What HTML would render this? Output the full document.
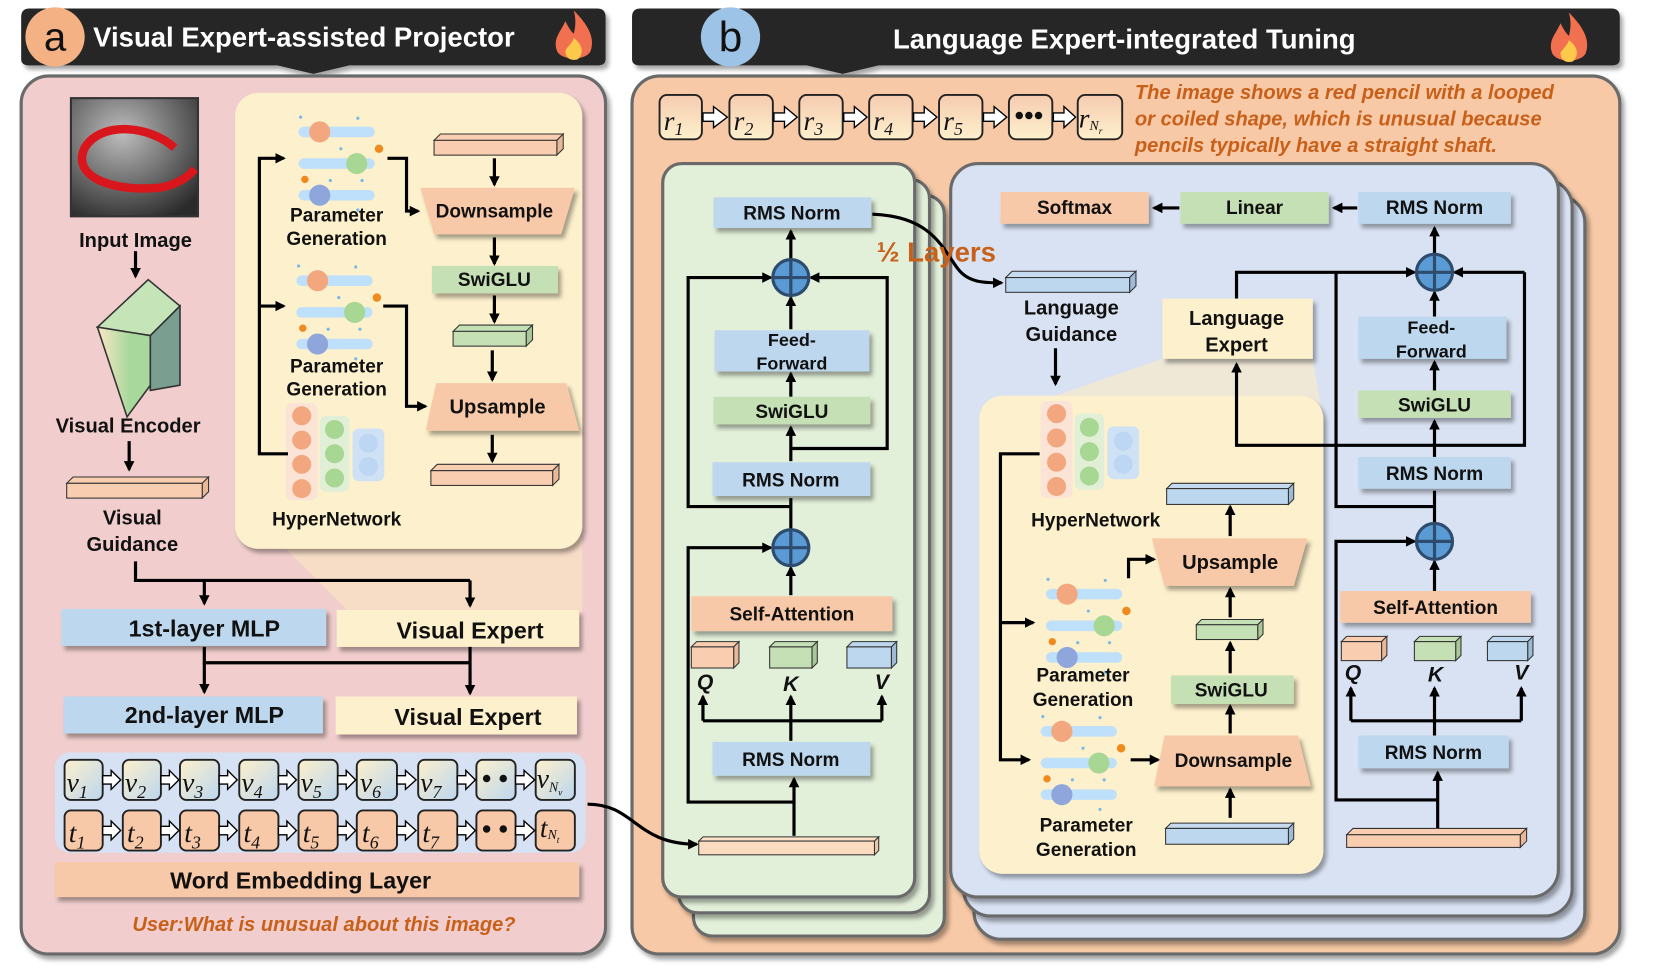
<!DOCTYPE html>
<html><head><meta charset="utf-8"><style>
html,body{margin:0;padding:0;background:#fff;}
svg{display:block;}
text{font-family:"Liberation Sans",sans-serif;font-weight:bold;fill:#111;}
.c{text-anchor:middle;}
.it{font-family:"Liberation Serif",serif;font-style:italic;font-weight:normal;}
.or{fill:#c8601a;font-style:italic;}
</style></head><body>
<svg width="1660" height="973" viewBox="0 0 1568 922" preserveAspectRatio="none" xmlns="http://www.w3.org/2000/svg">
<defs>
<marker id="ar" markerWidth="10" markerHeight="10" refX="8" refY="5" orient="auto" markerUnits="userSpaceOnUse"><path d="M0,0 L10,5 L0,10 z" fill="#000"/></marker>
<filter id="sh" x="-10%" y="-10%" width="130%" height="140%"><feDropShadow dx="3" dy="4" stdDeviation="2" flood-color="#000" flood-opacity="0.35"/></filter>
<linearGradient id="vg" x1="0" y1="0" x2="1" y2="1"><stop offset="0" stop-color="#fdf0cc"/><stop offset="1" stop-color="#bcd6ee"/></linearGradient>
<linearGradient id="rg" x1="0" y1="0" x2="0" y2="1"><stop offset="0" stop-color="#f6cbb0"/><stop offset="1" stop-color="#fdf0cc"/></linearGradient>
<linearGradient id="pf" x1="0" y1="0" x2="1" y2="0"><stop offset="0" stop-color="#fbe7c6"/><stop offset="0.6" stop-color="#a9d89c"/></linearGradient>
<linearGradient id="pt" x1="0" y1="0" x2="1" y2="0"><stop offset="0" stop-color="#a9d89c"/><stop offset="1" stop-color="#c9dcef"/></linearGradient>
<radialGradient id="ph" cx="0.4" cy="0.3" r="0.8"><stop offset="0" stop-color="#bdbdbd"/><stop offset="1" stop-color="#2a2a2a"/></radialGradient>
<g id="pgi">
<rect x="0" y="-5" width="72" height="10" rx="5" fill="#bfe0fa"/>
<rect x="0" y="25" width="72" height="10" rx="5" fill="#bfe0fa"/>
<rect x="0" y="55" width="72" height="10" rx="5" fill="#bfe0fa"/>
<circle cx="20" cy="0" r="10" fill="#f2a77f"/>
<circle cx="55" cy="30" r="10" fill="#a8d794"/>
<circle cx="20" cy="60" r="10" fill="#8ea6dc"/>
<circle cx="76" cy="16" r="4" fill="#f08a1c"/><circle cx="6" cy="45" r="3.5" fill="#f08a1c"/>
<circle cx="2" cy="-14" r="1.5" fill="#7ab8e8"/><circle cx="56" cy="-13" r="1.5" fill="#7ab8e8"/><circle cx="40" cy="16" r="1.5" fill="#7ab8e8"/><circle cx="60" cy="46" r="1.5" fill="#7ab8e8"/><circle cx="56" cy="74" r="1.5" fill="#7ab8e8"/><circle cx="30" cy="46" r="1.5" fill="#7ab8e8"/>
</g>
<g id="hni">
<rect x="0" y="0" width="30" height="92" rx="6" fill="#fbe3d6"/>
<circle cx="15" cy="12" r="9" fill="#f2a77f"/><circle cx="15" cy="35" r="9" fill="#f2a77f"/><circle cx="15" cy="58" r="9" fill="#f2a77f"/><circle cx="15" cy="81" r="9" fill="#f2a77f"/>
<rect x="32" y="12" width="28" height="72" rx="6" fill="#e0efd6"/>
<circle cx="46" cy="25" r="9" fill="#a8d794"/><circle cx="46" cy="48" r="9" fill="#a8d794"/><circle cx="46" cy="71" r="9" fill="#a8d794"/>
<rect x="63" y="24" width="30" height="50" rx="6" fill="#cfe1f5"/>
<circle cx="78" cy="38" r="9" fill="#bcd6f4"/><circle cx="78" cy="60" r="9" fill="#bcd6f4"/>
</g>
<g id="plus"><circle r="17" fill="#5b9bd5" stroke="#2e4d6e" stroke-width="3"/><path d="M-17,0 H17 M0,-17 V17" stroke="#2e4d6e" stroke-width="3"/></g>
<g id="flame"><path d="M0,-26 C14,-12 20,0 16,12 C12,22 -12,22 -16,12 C-20,0 -12,-6 -8,-16 C-4,-8 -2,-6 0,-4 C2,-12 2,-18 0,-26z" fill="#f07050"/><path d="M0,0 C8,6 10,14 4,20 C-2,22 -8,20 -8,12 C-6,8 -2,6 0,0z" fill="#fcc94a"/></g>
</defs>

<!-- Headers -->
<g filter="url(#sh)">
<path d="M20,16 Q20,8 28,8 H564 Q572,8 572,16 V56 Q572,62 564,62 H330 L296,70 L262,62 H28 Q20,62 20,56z" fill="#262626"/>
<path d="M597,16 Q597,8 605,8 H1522 Q1530,8 1530,16 V56 Q1530,62 1522,62 H830 L796,70 L762,62 H605 Q597,62 597,56z" fill="#262626"/>
</g>
<circle cx="52" cy="35" r="28" fill="#f4b183"/>
<text x="52" y="48" class="c" style="font-size:38px;font-weight:normal">a</text>
<text x="88" y="44" style="font-size:26px;fill:#fff">Visual Expert-assisted Projector</text>
<use href="#flame" x="542" y="36"/>
<circle cx="690" cy="35" r="28" fill="#9dc3e6"/>
<text x="690" y="49" class="c" style="font-size:40px;font-weight:normal">b</text>
<text x="1062" y="46" class="c" style="font-size:26px;fill:#fff">Language Expert-integrated Tuning</text>
<use href="#flame" x="1482" y="38"/>

<!-- Panels -->
<rect x="20" y="72" width="552" height="832" rx="26" fill="#f1cecd" stroke="#6b6b6b" stroke-width="3" filter="url(#sh)"/>
<rect x="597" y="72" width="933" height="832" rx="26" fill="#f7c9a6" stroke="#6b6b6b" stroke-width="3" filter="url(#sh)"/>

<!-- ===== Panel a ===== -->
<rect x="67" y="93" width="120" height="112" fill="url(#ph)" stroke="#333" stroke-width="2"/>
<path d="M165,140 C140,118 95,115 80,140 C68,165 100,182 150,178 C165,176 178,168 184,160" fill="none" stroke="#d8161c" stroke-width="8"/>
<text x="128" y="234" class="c" style="font-size:19px">Input Image</text>
<line x1="128" y1="238" x2="128" y2="262" stroke="#000" stroke-width="3" marker-end="url(#ar)"/>
<polygon points="92,310 140,265 170,290 142,318" fill="#c5e4b8" stroke="#333" stroke-width="1.5"/>
<polygon points="92,310 142,318 142,365 120,395" fill="url(#pf)" stroke="#333" stroke-width="1.5"/>
<polygon points="142,318 170,290 170,365 142,370" fill="#7a9e90" stroke="#333" stroke-width="1.5"/>
<text x="121" y="410" class="c" style="font-size:19px">Visual Encoder</text>
<line x1="122" y1="418" x2="122" y2="445" stroke="#000" stroke-width="3" marker-end="url(#ar)"/>
<polygon points="63,458 69,452 197,452 191,458" fill="#f8cdb0" stroke="#333" stroke-width="1"/>
<polygon points="191,458 197,452 197,466 191,472" fill="#e9b899" stroke="#333" stroke-width="1"/>
<rect x="63" y="458" width="128" height="14" fill="#f8cdb0" stroke="#333" stroke-width="1"/>
<text x="125" y="497" class="c" style="font-size:19px">Visual</text>
<text x="125" y="522" class="c" style="font-size:19px">Guidance</text>

<polygon points="260,510 550,510 550,580 330,580" fill="#f7dcc6"/>
<rect x="222" y="88" width="328" height="432" rx="22" fill="#fdf0cc" filter="url(#sh)"/>
<use href="#pgi" x="282" y="125"/>
<text x="318" y="210" class="c" style="font-size:18px">Parameter</text>
<text x="318" y="232" class="c" style="font-size:18px">Generation</text>
<use href="#pgi" x="280" y="266"/>
<text x="318" y="353" class="c" style="font-size:18px">Parameter</text>
<text x="318" y="375" class="c" style="font-size:18px">Generation</text>
<use href="#hni" x="270" y="382"/>
<text x="318" y="498" class="c" style="font-size:18px">HyperNetwork</text>
<path d="M272,430 H245 V150 H268" fill="none" stroke="#000" stroke-width="3" marker-end="url(#ar)"/>
<path d="M245,290 H268" fill="none" stroke="#000" stroke-width="3" marker-end="url(#ar)"/>
<path d="M366,150 H384 V200 H395" fill="none" stroke="#000" stroke-width="3" marker-end="url(#ar)"/>
<path d="M362,290 H384 V385 H402" fill="none" stroke="#000" stroke-width="3" marker-end="url(#ar)"/>
<g stroke="#333" stroke-width="1">
<polygon points="410,133 416,127 532,127 526,133" fill="#f8cdb0"/><polygon points="526,133 532,127 532,141 526,147" fill="#e9b899"/><rect x="410" y="133" width="116" height="14" fill="#f8cdb0"/>
<polygon points="428,314 434,308 503,308 497,314" fill="#c5e0b4"/><polygon points="497,314 503,308 503,322 497,328" fill="#a8c898"/><rect x="428" y="314" width="69" height="14" fill="#c5e0b4"/>
<polygon points="407,446 413,440 528,440 522,446" fill="#f8cdb0"/><polygon points="522,446 528,440 528,454 522,460" fill="#e9b899"/><rect x="407" y="446" width="115" height="14" fill="#f8cdb0"/>
</g>
<line x1="467" y1="150" x2="467" y2="175" stroke="#000" stroke-width="3" marker-end="url(#ar)"/>
<polygon points="397,178 543,178 530,222 410,222" fill="#f8c9a8" filter="url(#sh)"/>
<text x="467" y="206" class="c" style="font-size:18px">Downsample</text>
<line x1="467" y1="225" x2="467" y2="250" stroke="#000" stroke-width="3" marker-end="url(#ar)"/>
<rect x="408" y="252" width="119" height="26" fill="#c5e0b4" filter="url(#sh)"/>
<text x="467" y="271" class="c" style="font-size:18px">SwiGLU</text>
<line x1="467" y1="280" x2="467" y2="305" stroke="#000" stroke-width="3" marker-end="url(#ar)"/>
<line x1="465" y1="332" x2="465" y2="360" stroke="#000" stroke-width="3" marker-end="url(#ar)"/>
<polygon points="412,363 535,363 547,408 402,408" fill="#f8c9a8" filter="url(#sh)"/>
<text x="470" y="392" class="c" style="font-size:19px">Upsample</text>
<line x1="465" y1="412" x2="465" y2="437" stroke="#000" stroke-width="3" marker-end="url(#ar)"/>

<path d="M128,532 V550 H444" fill="none" stroke="#000" stroke-width="3"/>
<line x1="193" y1="550" x2="193" y2="572" stroke="#000" stroke-width="3" marker-end="url(#ar)"/>
<line x1="444" y1="550" x2="444" y2="574" stroke="#000" stroke-width="3" marker-end="url(#ar)"/>
<rect x="58" y="577" width="250" height="35" fill="#bdd7ee" filter="url(#sh)"/>
<text x="193" y="603" class="c" style="font-size:22px">1st-layer MLP</text>
<rect x="318" y="578" width="229" height="35" fill="#fdf0cc" filter="url(#sh)"/>
<text x="444" y="605" class="c" style="font-size:22px">Visual Expert</text>
<path d="M193,613 V628 H444 M444,613 V628" fill="none" stroke="#000" stroke-width="3"/>
<line x1="193" y1="628" x2="193" y2="656" stroke="#000" stroke-width="3" marker-end="url(#ar)"/>
<line x1="444" y1="628" x2="444" y2="657" stroke="#000" stroke-width="3" marker-end="url(#ar)"/>
<rect x="60" y="660" width="245" height="35" fill="#bdd7ee" filter="url(#sh)"/>
<text x="193" y="685" class="c" style="font-size:22px">2nd-layer MLP</text>
<rect x="317" y="660" width="228" height="36" fill="#fdf0cc" filter="url(#sh)"/>
<text x="442" y="687" class="c" style="font-size:22px">Visual Expert</text>

<rect x="52" y="713" width="501" height="95" rx="14" fill="#d6e2f3"/>
<g stroke="#222" stroke-width="1.8">
<rect x="61" y="720" width="36" height="38" rx="6" fill="url(#vg)"/><rect x="116" y="720" width="36" height="38" rx="6" fill="url(#vg)"/><rect x="170" y="720" width="37" height="38" rx="6" fill="url(#vg)"/><rect x="226" y="720" width="37" height="38" rx="6" fill="url(#vg)"/><rect x="282" y="720" width="37" height="38" rx="6" fill="url(#vg)"/><rect x="337" y="720" width="38" height="38" rx="6" fill="url(#vg)"/><rect x="395" y="720" width="37" height="38" rx="6" fill="url(#vg)"/><rect x="450" y="720" width="37" height="38" rx="6" fill="url(#vg)"/><rect x="506" y="720" width="37" height="38" rx="6" fill="url(#vg)"/>
<rect x="61" y="768" width="36" height="38" rx="6" fill="#f8c9a8"/><rect x="116" y="768" width="36" height="38" rx="6" fill="#f8c9a8"/><rect x="170" y="768" width="37" height="38" rx="6" fill="#f8c9a8"/><rect x="226" y="768" width="37" height="38" rx="6" fill="#f8c9a8"/><rect x="282" y="768" width="37" height="38" rx="6" fill="#f8c9a8"/><rect x="337" y="768" width="38" height="38" rx="6" fill="#f8c9a8"/><rect x="395" y="768" width="37" height="38" rx="6" fill="#f8c9a8"/><rect x="450" y="768" width="37" height="38" rx="6" fill="#f8c9a8"/><rect x="506" y="768" width="37" height="38" rx="6" fill="#f8c9a8"/>
</g>
<g fill="#fff" stroke="#000" stroke-width="1.3">
<polygon points="97,735 105,735 105,730 114,739 105,748 105,743 97,743"/><polygon points="152,735 160,735 160,730 169,739 160,748 160,743 152,743"/><polygon points="207,735 215,735 215,730 224,739 215,748 215,743 207,743"/><polygon points="263,735 271,735 271,730 280,739 271,748 271,743 263,743"/><polygon points="319,735 327,735 327,730 336,739 327,748 327,743 319,743"/><polygon points="375,735 383,735 383,730 393,739 383,748 383,743 375,743"/><polygon points="432,735 440,735 440,730 449,739 440,748 440,743 432,743"/><polygon points="487,735 495,735 495,730 505,739 495,748 495,743 487,743"/>
<polygon points="97,783 105,783 105,778 114,787 105,796 105,791 97,791"/><polygon points="152,783 160,783 160,778 169,787 160,796 160,791 152,791"/><polygon points="207,783 215,783 215,778 224,787 215,796 215,791 207,791"/><polygon points="263,783 271,783 271,778 280,787 271,796 271,791 263,791"/><polygon points="319,783 327,783 327,778 336,787 327,796 327,791 319,791"/><polygon points="375,783 383,783 383,778 393,787 383,796 383,791 375,791"/><polygon points="432,783 440,783 440,778 449,787 440,796 440,791 432,791"/><polygon points="487,783 495,783 495,778 505,787 495,796 495,791 487,791"/>
</g>
<g class="it" style="font-size:26px">
<text x="63" y="750" class="it">v<tspan style="font-size:17px" dy="6">1</tspan></text><text x="118" y="750" class="it">v<tspan style="font-size:17px" dy="6">2</tspan></text><text x="172" y="750" class="it">v<tspan style="font-size:17px" dy="6">3</tspan></text><text x="228" y="750" class="it">v<tspan style="font-size:17px" dy="6">4</tspan></text><text x="284" y="750" class="it">v<tspan style="font-size:17px" dy="6">5</tspan></text><text x="340" y="750" class="it">v<tspan style="font-size:17px" dy="6">6</tspan></text><text x="397" y="750" class="it">v<tspan style="font-size:17px" dy="6">7</tspan></text><text x="455" y="746" class="it" style="font-weight:bold">• •</text><text x="507" y="746" class="it">v<tspan style="font-size:13px" dy="4">N</tspan><tspan style="font-size:9px" dy="4">v</tspan></text>
<text x="65" y="798" class="it">t<tspan style="font-size:17px" dy="6">1</tspan></text><text x="120" y="798" class="it">t<tspan style="font-size:17px" dy="6">2</tspan></text><text x="174" y="798" class="it">t<tspan style="font-size:17px" dy="6">3</tspan></text><text x="230" y="798" class="it">t<tspan style="font-size:17px" dy="6">4</tspan></text><text x="286" y="798" class="it">t<tspan style="font-size:17px" dy="6">5</tspan></text><text x="342" y="798" class="it">t<tspan style="font-size:17px" dy="6">6</tspan></text><text x="399" y="798" class="it">t<tspan style="font-size:17px" dy="6">7</tspan></text><text x="455" y="794" class="it" style="font-weight:bold">• •</text><text x="510" y="793" class="it">t<tspan style="font-size:13px" dy="2">N</tspan><tspan style="font-size:9px" dy="4">t</tspan></text>
</g>
<rect x="52" y="817" width="495" height="33" fill="#f8c9a8" filter="url(#sh)"/>
<text x="284" y="842" class="c" style="font-size:22px">Word Embedding Layer</text>
<text x="306" y="882" class="c or" style="font-size:19px">User:What is unusual about this image?</text>

<!-- ===== Panel b ===== -->
<g stroke="#222" stroke-width="1.8" fill="url(#rg)">
<rect x="623" y="90" width="40" height="42" rx="7"/><rect x="689" y="90" width="41" height="42" rx="7"/><rect x="755" y="90" width="41" height="42" rx="7"/><rect x="821" y="90" width="41" height="42" rx="7"/><rect x="887" y="90" width="41" height="42" rx="7"/><rect x="953" y="90" width="41" height="42" rx="7"/><rect x="1018" y="90" width="42" height="42" rx="7"/>
</g>
<g fill="#fff" stroke="#000" stroke-width="1.3">
<polygon points="664,107 674,107 674,101 687,111 674,121 674,115 664,115"/><polygon points="731,107 741,107 741,101 753,111 741,121 741,115 731,115"/><polygon points="797,107 807,107 807,101 819,111 807,121 807,115 797,115"/><polygon points="863,107 873,107 873,101 885,111 873,121 873,115 863,115"/><polygon points="929,107 939,107 939,101 951,111 939,121 939,115 929,115"/><polygon points="995,107 1005,107 1005,101 1016,111 1005,121 1005,115 995,115"/>
</g>
<g style="font-size:26px">
<text x="627" y="123" class="it">r<tspan style="font-size:17px" dy="5">1</tspan></text><text x="693" y="123" class="it">r<tspan style="font-size:17px" dy="5">2</tspan></text><text x="759" y="123" class="it">r<tspan style="font-size:17px" dy="5">3</tspan></text><text x="825" y="123" class="it">r<tspan style="font-size:17px" dy="5">4</tspan></text><text x="891" y="123" class="it">r<tspan style="font-size:17px" dy="5">5</tspan></text><text x="958" y="118" class="it" style="font-weight:bold">•••</text><text x="1019" y="121" class="it">r<tspan style="font-size:13px" dy="2">N</tspan><tspan style="font-size:9px" dy="4">r</tspan></text>
</g>
<text x="1072" y="94" class="or" style="font-size:19px">The image shows a red pencil with a looped</text>
<text x="1072" y="119" class="or" style="font-size:19px">or coiled shape, which is unusual because</text>
<text x="1072" y="144" class="or" style="font-size:19px">pencils typically have a straight shaft.</text>

<!-- green stack -->
<rect x="655" y="185" width="237" height="702" rx="18" fill="#e2efd9" stroke="#6b6b6b" stroke-width="3" filter="url(#sh)"/>
<rect x="641" y="170" width="237" height="695" rx="18" fill="#e2efd9" stroke="#6b6b6b" stroke-width="3" filter="url(#sh)"/>
<rect x="626" y="155" width="238" height="695" rx="18" fill="#e2efd9" stroke="#6b6b6b" stroke-width="3" filter="url(#sh)"/>
<!-- blue stack -->
<rect x="920" y="185" width="577" height="705" rx="26" fill="#d9e2f3" stroke="#6b6b6b" stroke-width="3" filter="url(#sh)"/>
<rect x="910" y="170" width="575" height="698" rx="26" fill="#d9e2f3" stroke="#6b6b6b" stroke-width="3" filter="url(#sh)"/>
<rect x="898" y="155" width="574" height="695" rx="26" fill="#d9e2f3" stroke="#6b6b6b" stroke-width="3" filter="url(#sh)"/>

<path d="M555,762 C600,762 600,800 658,800" fill="none" stroke="#000" stroke-width="3" marker-end="url(#ar)"/>

<!-- green content -->
<g stroke="#000" stroke-width="3" fill="none">
<path d="M747,480 H650 V263 H728" marker-end="url(#ar)"/>
<path d="M747,425 H838 V263 H766" marker-end="url(#ar)"/>
<path d="M750,760 H650 V519 H728" marker-end="url(#ar)"/>
<line x1="747" y1="246" x2="747" y2="219" marker-end="url(#ar)"/>
<line x1="747" y1="312" x2="747" y2="282" marker-end="url(#ar)"/>
<line x1="747" y1="376" x2="747" y2="354" marker-end="url(#ar)"/>
<line x1="747" y1="437" x2="747" y2="405" marker-end="url(#ar)"/>
<line x1="747" y1="564" x2="747" y2="538" marker-end="url(#ar)"/>
<line x1="747" y1="502" x2="747" y2="472"/>
<line x1="747" y1="702" x2="747" y2="660" marker-end="url(#ar)"/>
<path d="M664,683 H833"/>
<line x1="664" y1="683" x2="664" y2="660" marker-end="url(#ar)"/>
<line x1="833" y1="683" x2="833" y2="660" marker-end="url(#ar)"/>
<line x1="750" y1="792" x2="750" y2="738" marker-end="url(#ar)"/>
</g>
<rect x="674" y="187" width="149" height="29" fill="#bdd7ee" filter="url(#sh)"/><text x="748" y="208" class="c" style="font-size:18px">RMS Norm</text>
<use href="#plus" x="747" y="263"/>
<rect x="675" y="313" width="146" height="39" fill="#bdd7ee" filter="url(#sh)"/><text x="748" y="328" class="c" style="font-size:17px">Feed-</text><text x="748" y="350" class="c" style="font-size:17px">Forward</text>
<rect x="674" y="376" width="148" height="26" fill="#c5e0b4" filter="url(#sh)"/><text x="748" y="396" class="c" style="font-size:18px">SwiGLU</text>
<rect x="673" y="438" width="149" height="32" fill="#bdd7ee" filter="url(#sh)"/><text x="747" y="461" class="c" style="font-size:18px">RMS Norm</text>
<use href="#plus" x="747" y="519"/>
<rect x="653" y="565" width="190" height="33" fill="#f8c9a8" filter="url(#sh)"/><text x="748" y="588" class="c" style="font-size:18px">Self-Attention</text>
<g stroke="#333" stroke-width="1">
<polygon points="653,613 658,608 698,608 693,613" fill="#f8cdb0"/><polygon points="693,613 698,608 698,628 693,633" fill="#e9b899"/><rect x="653" y="613" width="40" height="20" fill="#f8cdb0"/>
<polygon points="727,613 732,608 772,608 767,613" fill="#c5e0b4"/><polygon points="767,613 772,608 772,628 767,633" fill="#a8c898"/><rect x="727" y="613" width="40" height="20" fill="#c5e0b4"/>
<polygon points="800,613 805,608 847,608 842,613" fill="#bdd7ee"/><polygon points="842,613 847,608 847,628 842,633" fill="#9fbad6"/><rect x="800" y="613" width="42" height="20" fill="#bdd7ee"/>
</g>
<text x="666" y="653" class="c" style="font-size:20px;font-style:italic">Q</text><text x="747" y="655" class="c" style="font-size:20px;font-style:italic">K</text><text x="833" y="653" class="c" style="font-size:20px;font-style:italic">V</text>
<rect x="673" y="703" width="149" height="32" fill="#bdd7ee" filter="url(#sh)"/><text x="747" y="726" class="c" style="font-size:18px">RMS Norm</text>
<g stroke="#333" stroke-width="1">
<polygon points="660,797 664,793 830,793 826,797" fill="#fbe0c8"/><polygon points="826,797 830,793 830,806 826,810" fill="#e9c8a8"/><rect x="660" y="797" width="166" height="13" fill="#fbdcc0"/>
</g>

<!-- half layers curve -->
<path d="M824,203 C880,205 890,235 905,255 C915,268 930,268 946,268" fill="none" stroke="#000" stroke-width="3" marker-end="url(#ar)"/>
<text x="828" y="248" style="font-size:26px;fill:#c8601a">½ Layers</text>

<!-- blue content boxes -->
<rect x="945" y="182" width="140" height="30" fill="#f8c9a8" filter="url(#sh)"/><text x="1015" y="203" class="c" style="font-size:18px">Softmax</text>
<rect x="1115" y="182" width="140" height="30" fill="#c5e0b4" filter="url(#sh)"/><text x="1185" y="203" class="c" style="font-size:18px">Linear</text>
<rect x="1283" y="182" width="144" height="30" fill="#bdd7ee" filter="url(#sh)"/><text x="1355" y="203" class="c" style="font-size:18px">RMS Norm</text>
<g stroke="#333" stroke-width="1">
<polygon points="950,263 956,257 1073,257 1067,263" fill="#c6dbef"/><polygon points="1067,263 1073,257 1073,271 1067,277" fill="#9fbad6"/><rect x="950" y="263" width="117" height="14" fill="#bdd7ee"/>
</g>
<text x="1012" y="298" class="c" style="font-size:19px">Language</text>
<text x="1012" y="323" class="c" style="font-size:19px">Guidance</text>
<polygon points="1098,340 1240,340 1250,400 925,400" fill="#f5ead0" opacity="0.8"/>

<!-- inner yellow box -->
<rect x="925" y="375" width="325" height="453" rx="22" fill="#fdf0cc" filter="url(#sh)"/>

<g stroke="#000" stroke-width="3" fill="none">
<line x1="1114" y1="197" x2="1090" y2="197" marker-end="url(#ar)"/>
<line x1="1282" y1="197" x2="1260" y2="197" marker-end="url(#ar)"/>
<line x1="1355" y1="240" x2="1355" y2="216" marker-end="url(#ar)"/>
<path d="M1168,283 V258 H1336" marker-end="url(#ar)"/>
<path d="M1440,258 H1374" marker-end="url(#ar)"/>
<path d="M1440,258 V422 H1168 V345" marker-end="url(#ar)"/>
<path d="M1262,258 V480 H1355"/>
<line x1="1355" y1="300" x2="1355" y2="277" marker-end="url(#ar)"/>
<line x1="1355" y1="370" x2="1355" y2="343" marker-end="url(#ar)"/>
<line x1="1355" y1="433" x2="1355" y2="399" marker-end="url(#ar)"/>
<line x1="1355" y1="560" x2="1355" y2="532" marker-end="url(#ar)"/>
<line x1="1355" y1="496" x2="1355" y2="465"/>
<path d="M1358,758 H1262 V513 H1336" marker-end="url(#ar)"/>
<line x1="1355" y1="697" x2="1355" y2="652" marker-end="url(#ar)"/>
<path d="M1276,683 H1437"/>
<line x1="1276" y1="683" x2="1276" y2="652" marker-end="url(#ar)"/>
<line x1="1437" y1="683" x2="1437" y2="652" marker-end="url(#ar)"/>
<line x1="1358" y1="785" x2="1358" y2="732" marker-end="url(#ar)"/>
<line x1="997" y1="330" x2="997" y2="364" marker-end="url(#ar)"/>
</g>
<rect x="1098" y="283" width="142" height="57" fill="#fdf0cc" filter="url(#sh)"/>
<text x="1168" y="308" class="c" style="font-size:19px">Language</text>
<text x="1168" y="333" class="c" style="font-size:19px">Expert</text>
<use href="#plus" x="1355" y="258"/>
<rect x="1283" y="300" width="140" height="40" fill="#bdd7ee" filter="url(#sh)"/><text x="1352" y="316" class="c" style="font-size:17px">Feed-</text><text x="1352" y="339" class="c" style="font-size:17px">Forward</text>
<rect x="1283" y="370" width="144" height="26" fill="#c5e0b4" filter="url(#sh)"/><text x="1355" y="390" class="c" style="font-size:18px">SwiGLU</text>
<rect x="1283" y="433" width="144" height="30" fill="#bdd7ee" filter="url(#sh)"/><text x="1355" y="455" class="c" style="font-size:18px">RMS Norm</text>
<use href="#plus" x="1355" y="513"/>
<rect x="1266" y="560" width="180" height="30" fill="#f8c9a8" filter="url(#sh)"/><text x="1356" y="582" class="c" style="font-size:18px">Self-Attention</text>
<g stroke="#333" stroke-width="1">
<polygon points="1267,608 1272,603 1310,603 1305,608" fill="#f8cdb0"/><polygon points="1305,608 1310,603 1310,621 1305,626" fill="#e9b899"/><rect x="1267" y="608" width="38" height="18" fill="#f8cdb0"/>
<polygon points="1336,608 1341,603 1380,603 1375,608" fill="#c5e0b4"/><polygon points="1375,608 1380,603 1380,621 1375,626" fill="#a8c898"/><rect x="1336" y="608" width="39" height="18" fill="#c5e0b4"/>
<polygon points="1405,608 1410,603 1448,603 1443,608" fill="#bdd7ee"/><polygon points="1443,608 1448,603 1448,621 1443,626" fill="#9fbad6"/><rect x="1405" y="608" width="38" height="18" fill="#bdd7ee"/>
</g>
<text x="1278" y="644" class="c" style="font-size:20px;font-style:italic">Q</text><text x="1356" y="646" class="c" style="font-size:20px;font-style:italic">K</text><text x="1437" y="644" class="c" style="font-size:20px;font-style:italic">V</text>
<rect x="1283" y="697" width="142" height="31" fill="#bdd7ee" filter="url(#sh)"/><text x="1354" y="719" class="c" style="font-size:18px">RMS Norm</text>
<g stroke="#333" stroke-width="1">
<polygon points="1272,791 1278,785 1442,785 1436,791" fill="#f8cdb0"/><polygon points="1436,791 1442,785 1442,797 1436,803" fill="#e9b899"/><rect x="1272" y="791" width="164" height="12" fill="#f8cdb0"/>
</g>

<use href="#hni" x="983" y="380"/>
<text x="1035" y="499" class="c" style="font-size:18px">HyperNetwork</text>
<use href="#pgi" x="988" y="563"/>
<text x="1023" y="646" class="c" style="font-size:18px">Parameter</text>
<text x="1023" y="669" class="c" style="font-size:18px">Generation</text>
<use href="#pgi" x="983" y="693"/>
<text x="1026" y="788" class="c" style="font-size:18px">Parameter</text>
<text x="1026" y="811" class="c" style="font-size:18px">Generation</text>
<g stroke="#000" stroke-width="3" fill="none">
<path d="M982,430 H945 V720 H972" marker-end="url(#ar)"/>
<path d="M945,590 H976" marker-end="url(#ar)"/>
<path d="M1068,720 H1094" marker-end="url(#ar)"/>
<path d="M1066,548 V530 H1090" marker-end="url(#ar)"/>
<line x1="1162" y1="508" x2="1162" y2="480" marker-end="url(#ar)"/>
<line x1="1162" y1="585" x2="1162" y2="558" marker-end="url(#ar)"/>
<line x1="1162" y1="638" x2="1162" y2="609" marker-end="url(#ar)"/>
<line x1="1162" y1="695" x2="1162" y2="669" marker-end="url(#ar)"/>
<line x1="1162" y1="775" x2="1162" y2="748" marker-end="url(#ar)"/>
</g>
<g stroke="#333" stroke-width="1">
<polygon points="1102,463 1107,458 1222,458 1217,463" fill="#c6dbef"/><polygon points="1217,463 1222,458 1222,473 1217,478" fill="#9fbad6"/><rect x="1102" y="463" width="115" height="15" fill="#bdd7ee"/>
<polygon points="1130,592 1135,587 1193,587 1188,592" fill="#c5e0b4"/><polygon points="1188,592 1193,587 1193,601 1188,606" fill="#a8c898"/><rect x="1130" y="592" width="58" height="14" fill="#c5e0b4"/>
<polygon points="1101,785 1106,780 1222,780 1217,785" fill="#c6dbef"/><polygon points="1217,785 1222,780 1222,795 1217,800" fill="#9fbad6"/><rect x="1101" y="785" width="116" height="15" fill="#bdd7ee"/>
</g>
<polygon points="1088,510 1235,510 1222,555 1100,555" fill="#f8c9a8" filter="url(#sh)"/>
<text x="1162" y="539" class="c" style="font-size:19px">Upsample</text>
<rect x="1106" y="640" width="116" height="27" fill="#c5e0b4" filter="url(#sh)"/><text x="1163" y="660" class="c" style="font-size:18px">SwiGLU</text>
<polygon points="1100,697 1226,697 1238,745 1090,745" fill="#f8c9a8" filter="url(#sh)"/>
<text x="1165" y="727" class="c" style="font-size:18px">Downsample</text>
</svg>
</body></html>
